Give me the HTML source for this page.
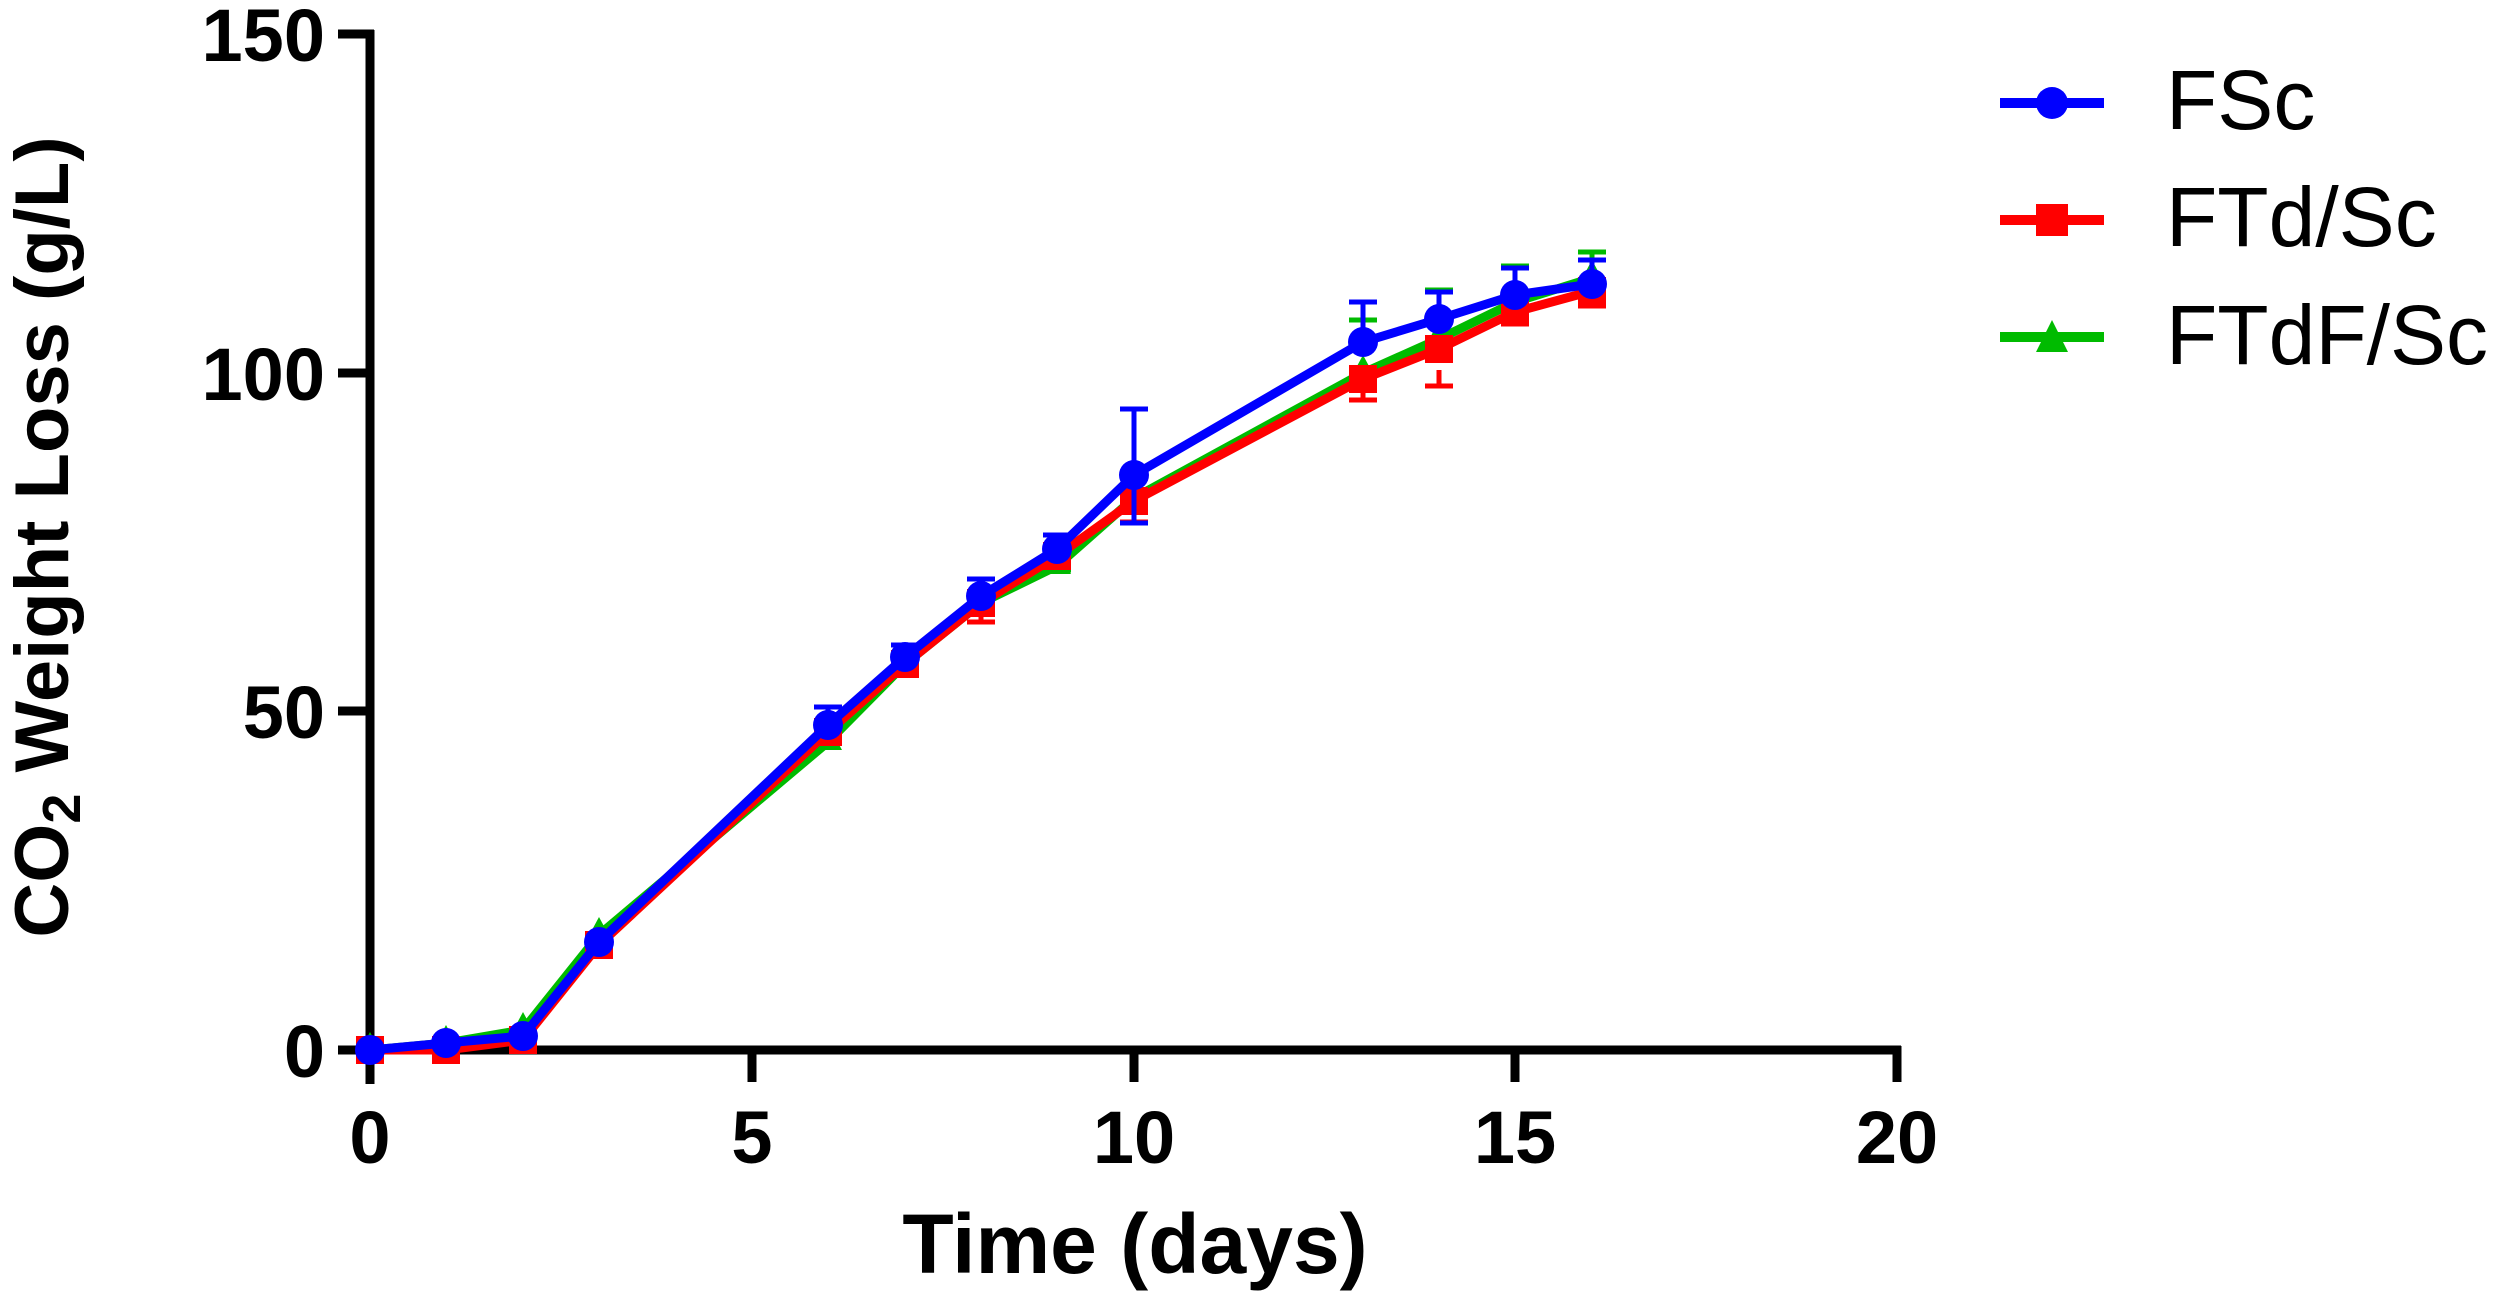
<!DOCTYPE html>
<html><head><style>html,body{margin:0;padding:0;background:#fff;}svg{display:block;}</style></head>
<body>
<svg width="2500" height="1294" viewBox="0 0 2500 1294" xmlns="http://www.w3.org/2000/svg" font-family="Liberation Sans, Arial, sans-serif">
<rect width="2500" height="1294" fill="#fff"/>
<g stroke="#000" stroke-width="9" fill="none">
<line x1="370" y1="30" x2="370" y2="1084"/>
<line x1="366" y1="1050" x2="1901" y2="1050"/>
<line x1="338" y1="34" x2="374" y2="34"/>
<line x1="338" y1="373" x2="374" y2="373"/>
<line x1="338" y1="711" x2="374" y2="711"/>
<line x1="338" y1="1050" x2="374" y2="1050"/>
<line x1="752" y1="1046" x2="752" y2="1082"/>
<line x1="1134" y1="1046" x2="1134" y2="1082"/>
<line x1="1515" y1="1046" x2="1515" y2="1082"/>
<line x1="1897" y1="1046" x2="1897" y2="1082"/>
</g>
<g font-weight="bold" font-size="74" fill="#000">
<text x="325" y="61" text-anchor="end">150</text>
<text x="325" y="400" text-anchor="end">100</text>
<text x="325" y="738" text-anchor="end">50</text>
<text x="325" y="1077" text-anchor="end">0</text>
<text x="370" y="1163" text-anchor="middle">0</text>
<text x="752" y="1163" text-anchor="middle">5</text>
<text x="1134" y="1163" text-anchor="middle">10</text>
<text x="1515" y="1163" text-anchor="middle">15</text>
<text x="1897" y="1163" text-anchor="middle">20</text>
<text x="1135" y="1273" font-size="84" text-anchor="middle">Time (days)</text>
<text transform="translate(68,537) rotate(-90)" font-size="76" text-anchor="middle">CO<tspan font-size="54" dy="12">2</tspan><tspan dy="-12"> Weight Loss (g/L)</tspan></text>
</g>
<g stroke="#00bb00" stroke-width="5" fill="none">
<path d="M1134 478v20M1120 478h28 M1363 320v20M1349 320h28 M1439 290v14M1425 290h28 M1515 266v14M1501 266h28 M1592 252v20M1578 252h28 M828 731v10M814 741h28 M1057 560v10M1043 570h28"/>
</g>
<polyline fill="none" stroke="#00bb00" stroke-width="9" stroke-linejoin="round" points="370,1050 446,1043 523,1030 599,935 828,742 905,664 981,603 1057,566 1134,498 1363,373 1439,339 1515,302 1592,278"/>
<g fill="#00bb00">
<path d="M370 1032l14 26h-28z M446 1025l14 26h-28z M523 1012l14 26h-28z M599 917l14 26h-28z M828 724l14 26h-28z M905 646l14 26h-28z M981 585l14 26h-28z M1057 548l14 26h-28z M1134 480l14 26h-28z M1363 355l14 26h-28z M1439 321l14 26h-28z M1515 284l14 26h-28z M1592 260l14 26h-28z"/>
</g>
<g stroke="#ff0000" stroke-width="5" fill="none">
<path d="M1134 502v20M1120 522h28 M1363 380v20M1349 400h28 M1439 370v16M1425 386h28 M1515 310v14M1501 324h28 M1592 292v14M1578 306h28 M981 610v12M967 622h28"/>
</g>
<polyline fill="none" stroke="#ff0000" stroke-width="9" stroke-linejoin="round" points="370,1050 446,1050 523,1040 599,945 828,732 905,664 981,603 1057,556 1134,501 1363,379 1439,349 1515,312 1592,291"/>
<g fill="#ff0000">
<rect x="356" y="1036" width="28" height="28"/><rect x="432" y="1036" width="28" height="28"/><rect x="509" y="1026" width="28" height="28"/><rect x="585" y="931" width="28" height="28"/><rect x="814" y="718" width="28" height="28"/><rect x="891" y="650" width="28" height="28"/><rect x="967" y="589" width="28" height="28"/><rect x="1043" y="542" width="28" height="28"/><rect x="1120" y="487" width="28" height="28"/><rect x="1349" y="365" width="28" height="28"/><rect x="1425" y="335" width="28" height="28"/><rect x="1501" y="298" width="28" height="28"/><rect x="1578" y="277" width="28" height="28"/>
</g>
<g stroke="#0000ff" stroke-width="5" fill="none">
<path d="M1134 465v-56M1120 409h28 M1134 465v58M1120 523h28 M1363 342v-40M1349 302h28 M1439 319v-27M1425 292h28 M1515 295v-27M1501 268h28 M1592 284v-24M1578 260h28 M828 725v-18M814 707h28 M981 596v-17M967 579h28 M1057 549v-14M1043 535h28 M905 657v-12M891 645h28"/>
</g>
<polyline fill="none" stroke="#0000ff" stroke-width="9" stroke-linejoin="round" points="370,1050 446,1043 523,1036 599,942 828,725 905,657 981,596 1057,549 1134,475 1363,342 1439,319 1515,295 1592,284"/>
<g fill="#0000ff">
<circle cx="370" cy="1050" r="15"/><circle cx="446" cy="1043" r="15"/><circle cx="523" cy="1036" r="15"/><circle cx="599" cy="942" r="15"/><circle cx="828" cy="725" r="15"/><circle cx="905" cy="657" r="15"/><circle cx="981" cy="596" r="15"/><circle cx="1057" cy="549" r="15"/><circle cx="1134" cy="475" r="15"/><circle cx="1363" cy="342" r="15"/><circle cx="1439" cy="319" r="15"/><circle cx="1515" cy="295" r="15"/><circle cx="1592" cy="284" r="15"/>
</g>
<line x1="2000" y1="103" x2="2104" y2="103" stroke="#0000ff" stroke-width="10"/>
<circle cx="2052" cy="103" r="16" fill="#0000ff"/>
<line x1="2000" y1="220" x2="2104" y2="220" stroke="#ff0000" stroke-width="10"/>
<rect x="2036" y="204" width="32" height="32" fill="#ff0000"/>
<line x1="2000" y1="337" x2="2104" y2="337" stroke="#00bb00" stroke-width="10"/>
<path d="M2052 320l16 32h-32z" fill="#00bb00"/>
<g font-size="84" fill="#000">
<text x="2166" y="129">FSc</text>
<text x="2166" y="246">FTd/Sc</text>
<text x="2166" y="364">FTdF/Sc</text>
</g>
</svg>
</body></html>
